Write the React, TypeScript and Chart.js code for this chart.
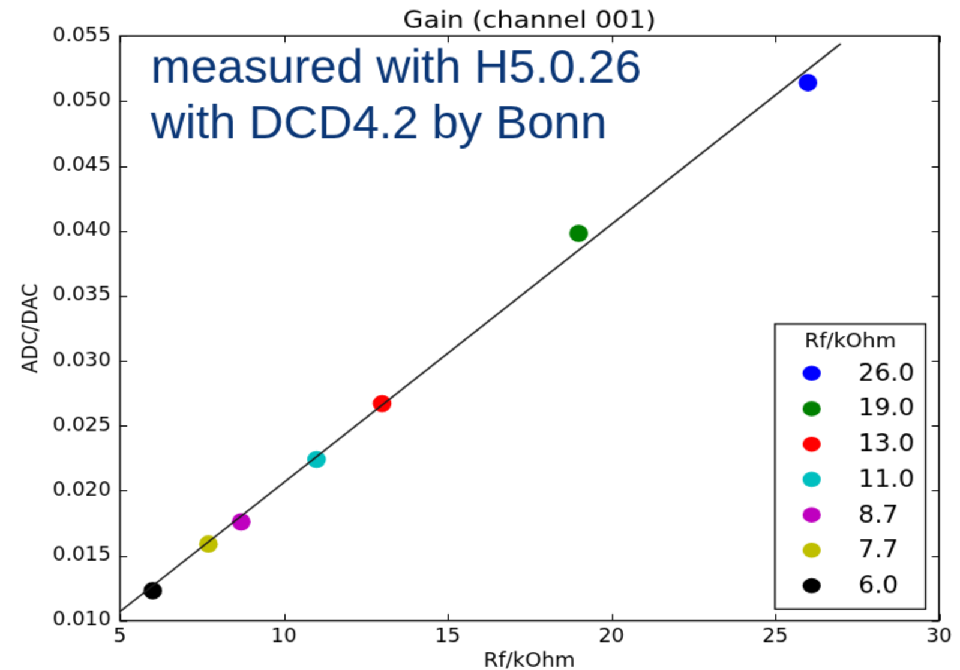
import React, { useEffect, useRef } from 'react';
import { Chart, registerables } from 'chart.js';

Chart.register(...registerables);

// ---- data ----
const rfValues = [26.0, 19.0, 13.0, 11.0, 8.7, 7.7, 6.0];
const gainValues = [0.0514, 0.0398, 0.0267, 0.0224, 0.0176, 0.0159, 0.0123];
const legendLabels = ['26.0', '19.0', '13.0', '11.0', '8.7', '7.7', '6.0'];
const fitX = [5, 27];
const fitY = [0.0107, 0.0544];
const xTicks = [5, 10, 15, 20, 25, 30];
const yTicks = [0.010, 0.015, 0.020, 0.025, 0.030, 0.035, 0.040, 0.045, 0.050, 0.055];
const pointColors = ['#0000ff', '#008000', '#ff0000', '#00bfbf', '#bf00bf', '#bfbf00', '#000000'];
const titleText = 'Gain (channel 001)';
const xTitle = 'Rf/kOhm';
const yTitle = 'ADC/DAC';
const legendTitle = 'Rf/kOhm';
const noteLines = ['measured with H5.0.26', 'with DCD4.2 by Bonn'];

// ---- geometry (internal canvas, stretched by CSS like the reference) ----
const W = 800;
const H = 600;
const SX = 960 / W;
const SY = 670 / H;
const FONT = '"DejaVu Sans", sans-serif';
const TICK_LEN = 6;

const decorPlugin = {
  id: 'decor',
  afterDraw(chart: any) {
    const { ctx, chartArea: a, scales } = chart;
    const xs = scales.x;
    const ys = scales.y;
    ctx.save();
    // frame
    ctx.strokeStyle = '#000';
    ctx.lineWidth = 1.4;
    ctx.strokeRect(a.left, a.top, a.right - a.left, a.bottom - a.top);
    // inward ticks on all sides
    ctx.lineWidth = 1;
    ctx.beginPath();
    for (const v of xTicks) {
      const px = Math.round(xs.getPixelForValue(v)) + 0.5;
      ctx.moveTo(px, a.bottom);
      ctx.lineTo(px, a.bottom - TICK_LEN);
      ctx.moveTo(px, a.top);
      ctx.lineTo(px, a.top + TICK_LEN);
    }
    for (const v of yTicks) {
      const py = Math.round(ys.getPixelForValue(v)) + 0.5;
      ctx.moveTo(a.left, py);
      ctx.lineTo(a.left + TICK_LEN, py);
      ctx.moveTo(a.right, py);
      ctx.lineTo(a.right - TICK_LEN, py);
    }
    ctx.stroke();

    // title
    ctx.fillStyle = '#000';
    ctx.font = `22px ${FONT}`;
    ctx.textAlign = 'center';
    ctx.textBaseline = 'alphabetic';
    ctx.fillText(titleText, (a.left + a.right) / 2, a.top - 7);

    // x title
    ctx.font = `17.5px ${FONT}`;
    ctx.fillText(xTitle, (a.left + a.right) / 2, 597);

    // y title
    ctx.save();
    ctx.translate(30.5, (a.top + a.bottom) / 2);
    ctx.rotate(-Math.PI / 2);
    ctx.fillText(yTitle, 0, 0);
    ctx.restore();

    // legend
    const bw = 125.6;
    const bh = 255.3;
    const bx = a.right - 11.1 - bw;
    const by = a.bottom - 10.4 - bh;
    ctx.fillStyle = '#fff';
    ctx.fillRect(bx, by, bw, bh);
    ctx.strokeStyle = '#000';
    ctx.lineWidth = 1.3;
    ctx.strokeRect(bx, by, bw, bh);
    ctx.fillStyle = '#000';
    ctx.font = `17.5px ${FONT}`;
    ctx.textAlign = 'center';
    ctx.textBaseline = 'middle';
    ctx.fillText(legendTitle, bx + bw / 2, by + 16);
    ctx.font = `21px ${FONT}`;
    ctx.textAlign = 'left';
    legendLabels.forEach((lab, i) => {
      const cy = by + 44.2 + i * 31.7;
      ctx.fillStyle = pointColors[i];
      ctx.beginPath();
      ctx.ellipse(bx + 30.6, cy, 7.6, 6.8, 0, 0, Math.PI * 2);
      ctx.fill();
      ctx.fillStyle = '#000';
      ctx.fillText(lab, bx + 69.5, cy + 1);
    });

    // annotation (not stretched in reference: undo the CSS stretch)
    ctx.save();
    ctx.scale(1 / SX, 1 / SY);
    ctx.fillStyle = '#0a3676';
    ctx.font = '47.7px "Liberation Sans", Arial, sans-serif';
    ctx.textAlign = 'left';
    ctx.textBaseline = 'alphabetic';
    ctx.fillText(noteLines[0], 151, 82.3);
    ctx.fillText(noteLines[1], 151, 138.3);
    ctx.restore();

    ctx.restore();
  },
};

export default function App() {
  const ref = useRef<HTMLCanvasElement>(null);
  useEffect(() => {
    const chart = new Chart(ref.current as HTMLCanvasElement, {
      type: 'scatter',
      data: {
        datasets: [
          {
            label: 'fit',
            data: fitX.map((x, i) => ({ x, y: fitY[i] })),
            showLine: true,
            borderColor: '#1a1a1a',
            borderWidth: 1.5,
            pointRadius: 0,
            fill: false,
          },
          {
            label: 'Rf',
            data: rfValues.map((x, i) => ({ x, y: gainValues[i] })),
            backgroundColor: pointColors,
            borderWidth: 0,
            pointRadius: 7.8,
          },
        ],
      },
      options: {
        animation: false,
        responsive: false,
        events: [],
        layout: { padding: { top: 32.2, right: 17.5, left: 0, bottom: 0 } },
        plugins: {
          legend: { display: false },
          title: { display: false },
          tooltip: { enabled: false },
        },
        scales: {
          x: {
            type: 'linear',
            min: 5,
            max: 30,
            grid: { display: false, drawTicks: false },
            border: { display: false },
            afterBuildTicks: (s: any) => {
              s.ticks = xTicks.map((v) => ({ value: v }));
            },
            afterFit: (s: any) => {
              s.height = 44.2;
            },
            ticks: {
              autoSkip: false,
              maxRotation: 0,
              padding: 4.5,
              color: '#000',
              font: { family: FONT, size: 17 },
              callback: (v: any) => String(v),
            },
          },
          y: {
            type: 'linear',
            min: 0.010,
            max: 0.055,
            grid: { display: false, drawTicks: false },
            border: { display: false },
            afterBuildTicks: (s: any) => {
              s.ticks = yTicks.map((v) => ({ value: v }));
            },
            afterFit: (s: any) => {
              s.width = 100;
            },
            ticks: {
              autoSkip: false,
              padding: 7.5,
              color: '#000',
              font: { family: FONT, size: 17 },
              callback: (v: any) => Number(v).toFixed(3),
            },
          },
        },
      },
      plugins: [decorPlugin],
    } as any);
    return () => chart.destroy();
  }, []);

  return (
    <div
      style={{
        position: 'absolute',
        left: 0,
        top: 0,
        width: W,
        height: H,
        transform: `scale(${SX}, ${SY})`,
        transformOrigin: '0 0',
        background: '#fff',
      }}
    >
      <canvas ref={ref} width={W} height={H} style={{ display: 'block', width: W, height: H }} />
    </div>
  );
}
